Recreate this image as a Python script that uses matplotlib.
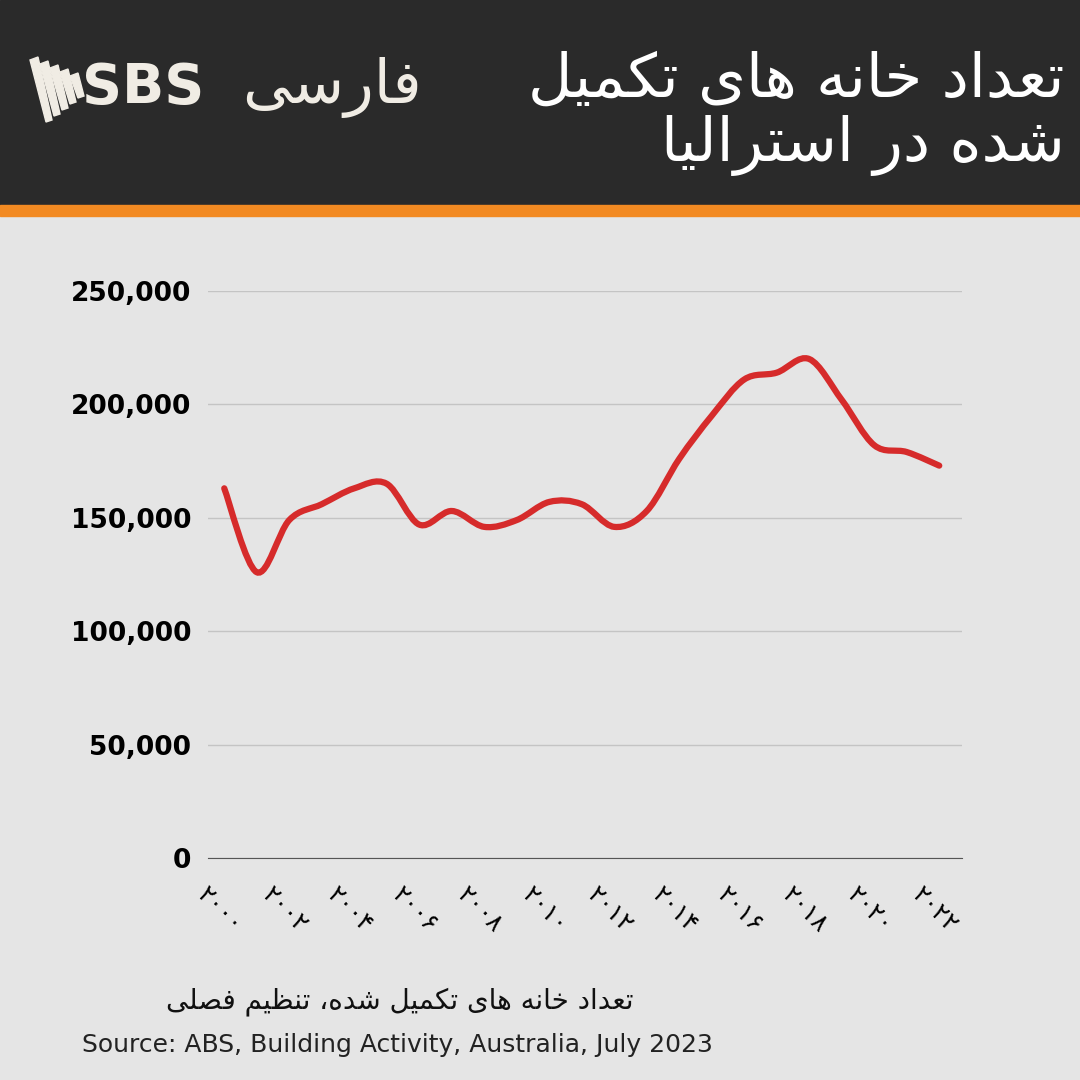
import matplotlib
matplotlib.use("Agg")
import matplotlib.pyplot as plt
from matplotlib.patches import Rectangle, Polygon
from matplotlib.path import Path
from matplotlib.patches import PathPatch
import numpy as np

years = list(range(2000, 2023))
completions = [163000, 126000, 149000, 156000, 163000, 165000, 147000, 153000, 146000, 149000,
               157000, 156000, 146000, 153000, 176000, 195000, 211000, 214000, 220000, 202000,
               182000, 179000, 173000]
tick_years = list(range(2000, 2023, 2))
yticks = [0, 50000, 100000, 150000, 200000, 250000]
title_lines = ["تعداد خانه های تکمیل", "شده در استرالیا"]
footnote = "تعداد خانه های تکمیل شده، تنظیم فصلی"
source = "Source: ABS, Building Activity, Australia, July 2023"
brand = "فارسی"

F = {
 'ا': (0xFE8D, 0xFE8E, None, None), 'د': (0xFEA9, 0xFEAA, None, None),
 'ذ': (0xFEAB, 0xFEAC, None, None), 'ر': (0xFEAD, 0xFEAE, None, None),
 'ز': (0xFEAF, 0xFEB0, None, None), 'و': (0xFEED, 0xFEEE, None, None),
 'ت': (0xFE95, 0xFE96, 0xFE97, 0xFE98), 'ع': (0xFEC9, 0xFECA, 0xFECB, 0xFECC),
 'خ': (0xFEA5, 0xFEA6, 0xFEA7, 0xFEA8), 'ن': (0xFEE5, 0xFEE6, 0xFEE7, 0xFEE8),
 'ه': (0xFEE9, 0xFEEA, 0xFEEB, 0xFEEC), 'ی': (0xFBFC, 0xFBFD, 0xFBFE, 0xFBFF),
 'ک': (0xFB8E, 0xFB8F, 0xFB90, 0xFB91), 'م': (0xFEE1, 0xFEE2, 0xFEE3, 0xFEE4),
 'ل': (0xFEDD, 0xFEDE, 0xFEDF, 0xFEE0), 'ش': (0xFEB5, 0xFEB6, 0xFEB7, 0xFEB8),
 'س': (0xFEB1, 0xFEB2, 0xFEB3, 0xFEB4), 'ف': (0xFED1, 0xFED2, 0xFED3, 0xFED4),
 'ظ': (0xFEC5, 0xFEC6, 0xFEC7, 0xFEC8), 'ص': (0xFEB9, 0xFEBA, 0xFEBB, 0xFEBC),
}
def shape(s):
    s = s.replace('لا', '\uE000')
    F2 = dict(F); F2['\uE000'] = (0xFEFB, 0xFEFC, None, None)
    out = []
    for i, c in enumerate(s):
        if c not in F2:
            out.append(c); continue
        p = s[i-1] if i > 0 else ''
        n = s[i+1] if i + 1 < len(s) else ''
        jp = p in F2 and F2[p][2] is not None
        jn = F2[c][2] is not None and n in F2
        iso, fin, ini, med = F2[c]
        if jp and jn: code = med
        elif jp: code = fin
        elif jn: code = ini
        else: code = iso
        out.append(chr(code))
    return ''.join(out)[::-1]

def fa_digits(y):
    return ''.join(chr(0x06F0 + int(d)) for d in str(y))

fig = plt.figure(figsize=(10.8, 10.8), dpi=100)
fig.patch.set_facecolor('#e5e5e5')
W = H = 1080.0
def fx(x): return x / W
def fy(y): return 1 - y / H

fig.patches.append(Rectangle((0, fy(205)), 1, 205 / H, transform=fig.transFigure, color='#2a2a2a', zorder=0))
fig.patches.append(Rectangle((0, fy(216)), 1, 11 / H, transform=fig.transFigure, color='#f28a22', zorder=0))

for k in range(5):
    x0 = 30 + k * 10
    fig.patches.append(Polygon([(fx(x0), fy(60 + k * 4)), (fx(x0 + 8), fy(57 + k * 4)),
                                (fx(x0 + 22 - k * 2), fy(120 - k * 6)), (fx(x0 + 16 - k * 2), fy(122 - k * 6))],
                               closed=True, transform=fig.transFigure, color='#f0ece4'))
fig.text(fx(82), fy(88), 'SBS', color='#f0ece4', fontsize=40, fontweight='bold', va='center', ha='left')
fig.text(fx(422), fy(88), shape(brand), color='#f0ece4', fontsize=44, va='center', ha='right')
fig.text(fx(1065), fy(80), shape(title_lines[0]), color='white', fontsize=44, va='center', ha='right')
fig.text(fx(1065), fy(145), shape(title_lines[1]), color='white', fontsize=44, va='center', ha='right')

ax = fig.add_axes([fx(208), fy(858), (962 - 208) / W, (858 - 291) / H])
ax.set_facecolor('#e5e5e5')

x = np.array(years, float); y = np.array(completions, float)
verts = [(x[0], y[0])]; codes = [Path.MOVETO]
for i in range(len(x) - 1):
    p0 = (x[max(i-1, 0)], y[max(i-1, 0)]); p1 = (x[i], y[i])
    p2 = (x[i+1], y[i+1]); p3 = (x[min(i+2, len(x)-1)], y[min(i+2, len(x)-1)])
    c1 = (p1[0] + (p2[0]-p0[0])/6, p1[1] + (p2[1]-p0[1])/6)
    c2 = (p2[0] - (p3[0]-p1[0])/6, p2[1] - (p3[1]-p1[1])/6)
    verts += [c1, c2, p2]; codes += [Path.CURVE4]*3
ax.add_patch(PathPatch(Path(verts, codes), fill=False, edgecolor='#d62b2b', lw=4.5, capstyle='round'))

ax.set_ylim(0, 250000)
ax.set_xlim(1999.5, 2022.7)
ax.set_yticks(yticks)
ax.set_yticklabels([f"{v:,}" for v in yticks], fontsize=19, fontweight='bold')
ax.set_xticks(tick_years)
ax.set_xticklabels([fa_digits(v) for v in tick_years], rotation=-45, ha='left', va='top',
                   rotation_mode='anchor', fontsize=18)
ax.tick_params(axis='both', length=0, pad=12)
ax.tick_params(axis='x', pad=18)
for lab in ax.get_xticklabels():
    lab.set_transform(lab.get_transform() + matplotlib.transforms.ScaledTranslation(-0.15, 0, fig.dpi_scale_trans))
ax.grid(axis='y', color='#c4c4c4', lw=1)
ax.set_axisbelow(True)
for s in ['top', 'right', 'left']:
    ax.spines[s].set_visible(False)
ax.spines['bottom'].set_color('#555555')

fig.text(fx(634), fy(1002), shape(footnote), fontsize=20, ha='right', va='center', color='#111111')
fig.text(fx(82), fy(1045), source, fontsize=18, ha='left', va='center', color='#222222')

fig.savefig('out.png', dpi=100, facecolor=fig.get_facecolor())
